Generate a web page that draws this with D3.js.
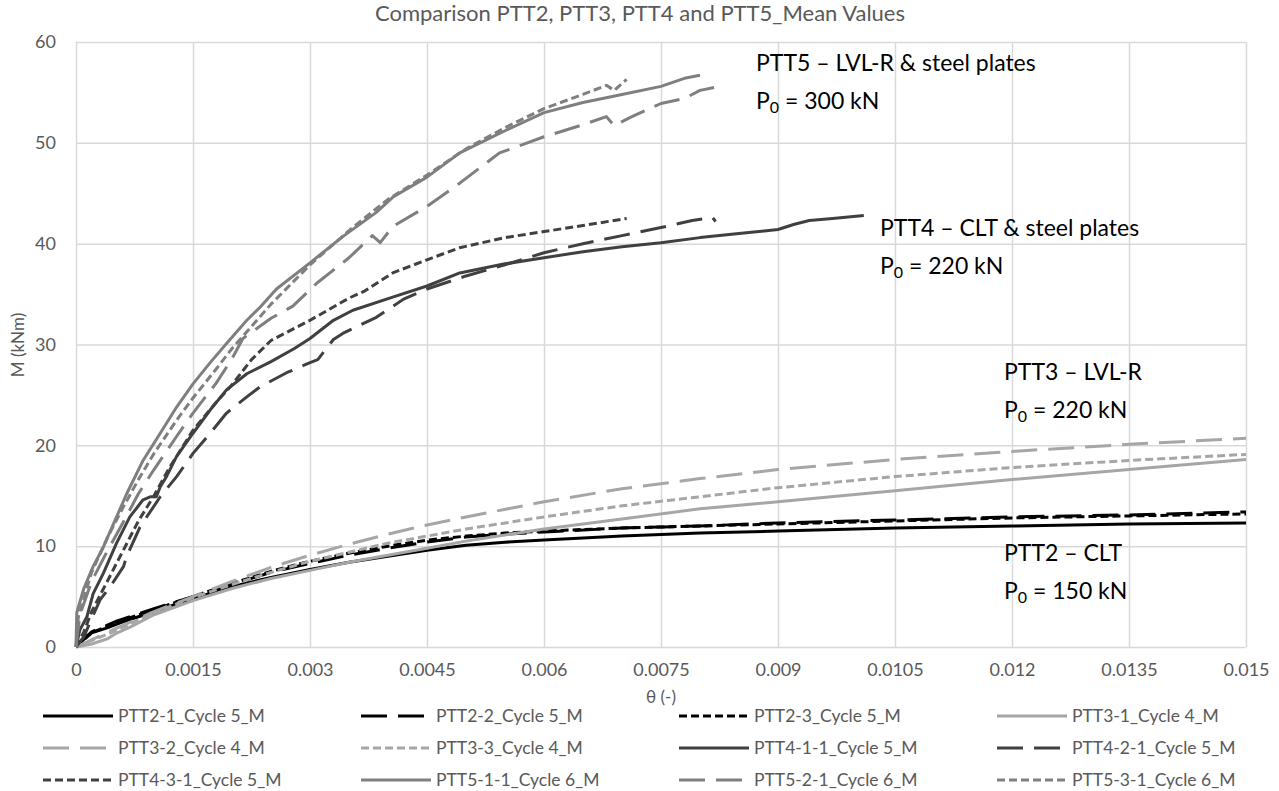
<!DOCTYPE html>
<html>
  <head>
    <meta charset="utf-8" />
    <script src="https://d3js.org/d3.v7.min.js"></script>
    <title>Comparison PTT2-PTT5</title>
    <style>
        body { margin: 0; background: #fff; }
        text { font-family: Lato, "Open Sans", sans-serif; }
    </style>
  </head>
  <body>
    <svg id="chart" width="1279" height="791"></svg>

    <script>
    // tick values
    var xTicks = [0, 0.0015, 0.003, 0.0045, 0.006, 0.0075, 0.009, 0.0105, 0.012, 0.0135, 0.015];
    var yTicks = [0, 10, 20, 30, 40, 50, 60];

    // series values [theta, M]
    var ptt2_1 = [[0,0],[0.0001,0.9],[0.0002,1.4],[0.0004,1.9],[0.0006,2.5],[0.0008,3.0],[0.001,3.5],[0.0013,4.3],[0.0015,4.8],[0.002,6.0],[0.0025,6.9],[0.003,7.7],[0.0035,8.4],[0.004,9.0],[0.0045,9.6],[0.005,10.1],[0.0055,10.4],[0.006,10.6],[0.007,11.0],[0.008,11.3],[0.009,11.5],[0.0105,11.8],[0.012,12.0],[0.0135,12.2],[0.015,12.3]];
    var ptt2_2 = [[0,0],[0.0002,1.5],[0.0005,2.5],[0.001,3.8],[0.0015,5.0],[0.002,6.2],[0.0025,7.4],[0.003,8.3],[0.0035,9.1],[0.004,9.8],[0.0045,10.4],[0.005,10.9],[0.0055,11.2],[0.006,11.4],[0.007,11.8],[0.008,12.0],[0.009,12.3],[0.0105,12.6],[0.012,12.9],[0.0135,13.1],[0.015,13.4]];
    var ptt2_3 = [[0,0],[0.0002,1.4],[0.0005,2.4],[0.001,3.7],[0.0015,5.0],[0.002,6.3],[0.0025,7.5],[0.003,8.5],[0.0035,9.3],[0.004,10.0],[0.0045,10.6],[0.005,11.0],[0.0055,11.3],[0.006,11.5],[0.007,11.8],[0.008,12.0],[0.009,12.2],[0.0105,12.5],[0.012,12.8],[0.0135,13.0],[0.015,13.2]];
    var ptt3_1 = [[0,0],[0.0002,0.3],[0.0004,0.8],[0.0005,1.3],[0.0007,2.0],[0.001,3.2],[0.0015,4.6],[0.002,5.8],[0.0025,6.8],[0.003,7.6],[0.0035,8.4],[0.004,9.1],[0.0045,9.8],[0.005,10.5],[0.006,11.7],[0.007,12.7],[0.008,13.7],[0.009,14.4],[0.0105,15.5],[0.012,16.6],[0.0135,17.6],[0.015,18.6]];
    var ptt3_2 = [[0,0],[0.0005,1.8],[0.001,3.5],[0.0015,5.0],[0.002,6.5],[0.0025,7.9],[0.003,9.1],[0.0035,10.2],[0.004,11.2],[0.0045,12.1],[0.005,12.9],[0.006,14.4],[0.007,15.7],[0.008,16.7],[0.009,17.6],[0.0105,18.6],[0.012,19.4],[0.0135,20.1],[0.015,20.7]];
    var ptt3_3 = [[0,0],[0.0005,1.6],[0.001,3.4],[0.0015,4.9],[0.002,6.2],[0.0025,7.4],[0.003,8.5],[0.0035,9.4],[0.004,10.3],[0.0045,11.0],[0.005,11.7],[0.006,12.9],[0.007,14.0],[0.008,14.9],[0.009,15.8],[0.0105,16.9],[0.012,17.8],[0.0135,18.5],[0.015,19.1]];
    var ptt4_1 = [[0,0],[0.00005,1.7],[0.00014,3.0],[0.00022,5.3],[0.00035,7.3],[0.00052,10.3],[0.00069,12.9],[0.00086,14.6],[0.00095,14.9],[0.00103,14.9],[0.00108,15.9],[0.00116,16.9],[0.00129,18.9],[0.0015,21.2],[0.00172,23.5],[0.00193,25.5],[0.00219,27.1],[0.0025,28.3],[0.0028,29.6],[0.003,30.6],[0.0033,32.4],[0.00355,33.4],[0.00406,34.7],[0.0045,35.8],[0.00492,37.1],[0.0055,38.0],[0.006,38.6],[0.0065,39.2],[0.007,39.7],[0.0075,40.1],[0.008,40.6],[0.0085,41.0],[0.009,41.4],[0.0092,41.9],[0.0094,42.3],[0.0097,42.5],[0.0101,42.8]];
    var ptt4_2 = [[0,0],[0.0001,1.0],[0.0002,2.8],[0.00031,4.7],[0.00044,6.0],[0.00061,8.0],[0.00065,9.0],[0.00082,11.9],[0.00108,14.9],[0.00129,16.9],[0.0015,19.2],[0.00172,21.2],[0.00193,23.2],[0.00219,24.8],[0.00236,25.8],[0.0027,27.2],[0.003,28.2],[0.0031,28.5],[0.0033,30.5],[0.00342,31.1],[0.00385,32.7],[0.0042,34.5],[0.0045,35.5],[0.005,36.8],[0.0055,37.9],[0.006,39.1],[0.0065,40.0],[0.007,40.8],[0.0075,41.6],[0.0079,42.3],[0.00816,42.6],[0.0082,42.2]];
    var ptt4_3 = [[0,0],[0.0001,1.5],[0.0002,3.5],[0.0004,6.5],[0.0006,9.5],[0.0008,12.5],[0.001,15.0],[0.0012,17.8],[0.0015,21.5],[0.0018,24.3],[0.002,26.0],[0.00225,28.5],[0.0025,30.4],[0.003,32.4],[0.0035,34.6],[0.0037,35.3],[0.00406,37.1],[0.0045,38.4],[0.00492,39.6],[0.0055,40.6],[0.006,41.2],[0.0065,41.8],[0.00706,42.5]];
    var ptt5_1 = [[0,0],[0.00001,3.4],[0.0001,5.8],[0.00022,8.0],[0.00035,9.9],[0.00052,12.9],[0.00065,15.2],[0.00086,18.5],[0.00108,21.2],[0.00129,23.8],[0.0015,26.1],[0.00172,28.2],[0.00193,30.1],[0.00219,32.4],[0.00236,33.7],[0.00257,35.5],[0.003,38.1],[0.00342,40.7],[0.00385,43.1],[0.00406,44.6],[0.0045,46.6],[0.00492,49.0],[0.0055,51.2],[0.006,53.0],[0.0065,54.0],[0.007,54.8],[0.0075,55.6],[0.0078,56.4],[0.008,56.7]];
    var ptt5_2 = [[0,0],[0.00005,3.2],[0.0002,6.5],[0.0004,9.5],[0.0006,12.3],[0.0008,15.2],[0.001,17.6],[0.0013,21.0],[0.0015,23.2],[0.0018,26.2],[0.002,28.6],[0.00214,30.6],[0.0025,32.6],[0.00278,33.8],[0.00309,36.1],[0.0035,38.6],[0.0038,40.8],[0.0039,40.1],[0.00406,41.7],[0.0045,43.7],[0.00492,46.0],[0.00543,49.0],[0.006,50.6],[0.0065,51.8],[0.0068,52.6],[0.0069,51.7],[0.0071,52.5],[0.0075,53.9],[0.0078,54.4],[0.008,55.2],[0.00825,55.6]];
    var ptt5_3 = [[0,0],[0.00003,3.0],[0.0002,7.4],[0.0004,10.8],[0.0006,13.8],[0.0008,16.6],[0.001,19.2],[0.0013,22.6],[0.0015,24.7],[0.0018,27.6],[0.002,29.6],[0.0025,34.0],[0.003,37.9],[0.0035,41.3],[0.004,44.4],[0.0045,46.8],[0.005,49.4],[0.0055,51.5],[0.006,53.4],[0.0065,54.8],[0.0068,55.7],[0.0069,55.2],[0.00706,56.3]];

    var seriesNames = ["PTT2-1_Cycle 5_M", "PTT2-2_Cycle 5_M", "PTT2-3_Cycle 5_M", "PTT3-1_Cycle 4_M",
                       "PTT3-2_Cycle 4_M", "PTT3-3_Cycle 4_M", "PTT4-1-1_Cycle 5_M", "PTT4-2-1_Cycle 5_M",
                       "PTT4-3-1_Cycle 5_M", "PTT5-1-1_Cycle 6_M", "PTT5-2-1_Cycle 6_M", "PTT5-3-1_Cycle 6_M"];
    var seriesData = [ptt2_1, ptt2_2, ptt2_3, ptt3_1, ptt3_2, ptt3_3, ptt4_1, ptt4_2, ptt4_3, ptt5_1, ptt5_2, ptt5_3];

    // styles
    var colours = ["#000000", "#000000", "#000000", "#a6a6a6", "#a6a6a6", "#a6a6a6",
                   "#404040", "#404040", "#404040", "#7f7f7f", "#7f7f7f", "#7f7f7f"];
    var dashes = { solid: null, long: "26,11", short: "8,4" };
    var dashType = ["solid", "long", "short", "solid", "long", "short", "solid", "long", "short", "solid", "long", "short"];

    var svg = d3.select("#chart");
    var x = d3.scaleLinear().domain([0, 0.015]).range([76, 1246]);
    var y = d3.scaleLinear().domain([0, 60]).range([647, 42]);

    // grid
    svg.append("g")
        .attr("transform", "translate(0,647)")
        .call(d3.axisBottom(x).tickValues(xTicks).tickSize(-605).tickFormat(""))
        .call(function(g){ g.select(".domain").remove(); })
        .selectAll("line").attr("stroke", "#d9d9d9").attr("stroke-width", 1.5);
    svg.append("g")
        .attr("transform", "translate(76,0)")
        .call(d3.axisLeft(y).tickValues(yTicks).tickSize(-1170).tickFormat(""))
        .call(function(g){ g.select(".domain").remove(); })
        .selectAll("line").attr("stroke", "#d9d9d9").attr("stroke-width", 1.5);

    // tick labels
    var xAxis = svg.append("g")
        .attr("transform", "translate(0,647)")
        .call(d3.axisBottom(x).tickValues(xTicks).tickSize(0).tickPadding(16)
            .tickFormat(function(d){ return d === 0 ? "0" : String(+d.toFixed(4)); }));
    xAxis.select(".domain").remove();
    xAxis.selectAll("text").attr("font-size", 18).attr("fill", "#595959")
        .attr("font-family", "Lato, sans-serif");

    var yAxis = svg.append("g")
        .attr("transform", "translate(76,0)")
        .call(d3.axisLeft(y).tickValues(yTicks).tickSize(0).tickPadding(20));
    yAxis.select(".domain").remove();
    yAxis.selectAll("text").attr("font-size", 18).attr("fill", "#595959")
        .attr("font-family", "Lato, sans-serif");

    // lines
    var line = d3.line()
        .x(function(d){ return x(d[0]); })
        .y(function(d){ return y(d[1]); });

    seriesData.forEach(function(data, i){
        svg.append("path")
            .datum(data)
            .attr("d", line)
            .attr("fill", "none")
            .attr("stroke", colours[i])
            .attr("stroke-width", 3)
            .attr("stroke-linejoin", "round")
            .attr("stroke-dasharray", dashes[dashType[i]]);
    });

    // title and axis titles
    svg.append("text").attr("x", 640).attr("y", 21).attr("text-anchor", "middle")
        .attr("font-size", 22).attr("fill", "#595959")
        .text("Comparison PTT2, PTT3, PTT4 and PTT5_Mean Values");
    svg.append("text").attr("transform", "translate(24,345) rotate(-90)")
        .attr("text-anchor", "middle").attr("font-size", 17).attr("fill", "#595959")
        .text("M (kNm)");
    svg.append("text").attr("x", 661).attr("y", 703).attr("text-anchor", "middle")
        .attr("font-size", 17).attr("fill", "#595959")
        .text("θ (-)");

    // annotations
    var notes = [
        { t: "PTT5 – LVL-R & steel plates", p: "300", x: 756, y: 71 },
        { t: "PTT4 – CLT & steel plates", p: "220", x: 880, y: 236 },
        { t: "PTT3 – LVL-R", p: "220", x: 1004, y: 380 },
        { t: "PTT2 – CLT", p: "150", x: 1004, y: 561 }
    ];
    notes.forEach(function(n){
        svg.append("text").attr("x", n.x).attr("y", n.y)
            .attr("font-size", 23).attr("fill", "#000").text(n.t);
        var p = svg.append("text").attr("x", n.x).attr("y", n.y + 38)
            .attr("font-size", 23).attr("fill", "#000");
        p.append("tspan").text("P");
        p.append("tspan").attr("font-size", 16).attr("dy", 4).text("0");
        p.append("tspan").attr("dy", -4).text(" = " + n.p + " kN");
    });

    // legend
    var legend = svg.append("g");
    seriesNames.forEach(function(name, i){
        var col = i % 4, row = Math.floor(i / 4);
        var lx = 118 + col * 318, ly = 716 + row * 32;
        legend.append("line")
            .attr("x1", lx - 75).attr("x2", lx - 5)
            .attr("y1", ly).attr("y2", ly)
            .attr("stroke", colours[i]).attr("stroke-width", 3)
            .attr("stroke-dasharray", dashes[dashType[i]]);
        legend.append("text")
            .attr("x", lx).attr("y", ly).attr("dy", "0.35em")
            .attr("font-size", 17.5).attr("fill", "#595959")
            .text(name);
    });
    </script>
  </body>
</html>
